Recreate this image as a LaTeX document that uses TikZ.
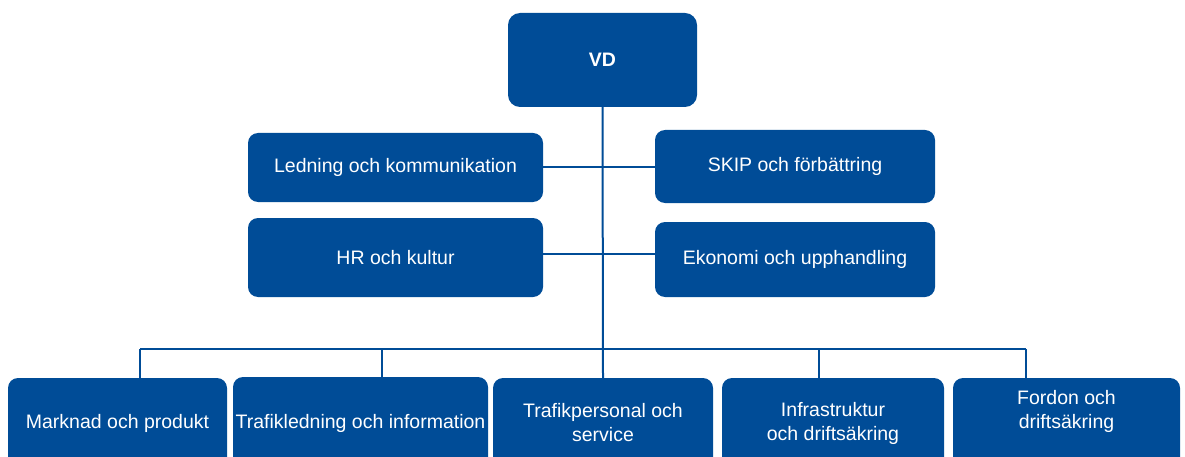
\documentclass[tikz,border=0pt]{standalone}
\usepackage{fontspec}
\setmainfont{Liberation Sans}
\usepackage{tikz}
\usetikzlibrary{calc}
\definecolor{orgblue}{RGB}{0,76,151}

\begin{document}
\begin{tikzpicture}[x=1pt, y=-1pt]
    % boxes of the chart
    \tikzstyle{unit}=[fill=orgblue, text=white, rounded corners=10pt, inner sep=2pt, align=center, font=\fontsize{19.5}{24}\selectfont]
    % connector lines
    \tikzstyle{link}=[draw=orgblue, line width=2pt]
    \useasboundingbox (0,0) rectangle (1185,457);
    \clip (0,0) rectangle (1185,457);
    % top
    \node[unit, minimum width=189pt, minimum height=94pt, rounded corners=12pt, font=\fontsize{19.5}{24}\selectfont\bfseries] (vd) at (602.5,60) {VD};
    % staff functions
    \node[unit, minimum width=295pt, minimum height=69pt] (ledning) at (395.5,167.5) {Ledning och kommunikation};
    \node[unit, minimum width=280pt, minimum height=73pt] (skip) at (795,166.5) {SKIP och förbättring};
    \node[unit, minimum width=295pt, minimum height=79pt] (hr) at (395.5,257.5) {HR och kultur};
    \node[unit, minimum width=280pt, minimum height=75pt] (ekonomi) at (795,259.5) {Ekonomi och upphandling};
    % line units (cut at the lower edge)
    \node[unit, minimum width=219pt, minimum height=90pt] (marknad) at (117.5,423) {Marknad och produkt};
    \node[unit, minimum width=255pt, minimum height=92pt] (trafikledning) at (360.5,423) {Trafikledning och information};
    \node[unit, minimum width=220pt, minimum height=90pt] (trafikpersonal) at (603,423) {Trafikpersonal och\\service};
    \node[unit, minimum width=222pt, minimum height=90pt] (infra) at (833,423) {Infrastruktur\\och driftsäkring};
    \node[unit, minimum width=227pt, minimum height=90pt] (fordon) at (1066.5,423) {};
    \node[text=white, align=center, inner sep=0pt, font=\fontsize{19.5}{24}\selectfont] (fordontext) at (1066.5,411) {Fordon och\\driftsäkring};
    % drop points on the bus
    \coordinate (d1) at (140,349);
    \coordinate (d2) at (382,349);
    \coordinate (d4) at (819,349);
    \coordinate (d5) at (1026,349);
    \draw[link] (vd.south) -- (trafikpersonal.north);
    \draw[link] (ledning.east) -- (ledning.east -| skip.west);
    \draw[link] ([yshift=3.5pt]hr.east) -- ([yshift=3.5pt]hr.east -| ekonomi.west);
    \draw[link] (d1) -- (d5);
    \draw[link] (d1) -- (d1 |- marknad.north);
    \draw[link] (d2) -- (d2 |- trafikledning.north);
    \draw[link] (d4) -- (d4 |- infra.north);
    \draw[link] (d5) -- (d5 |- fordon.north);
\end{tikzpicture}
\end{document}
